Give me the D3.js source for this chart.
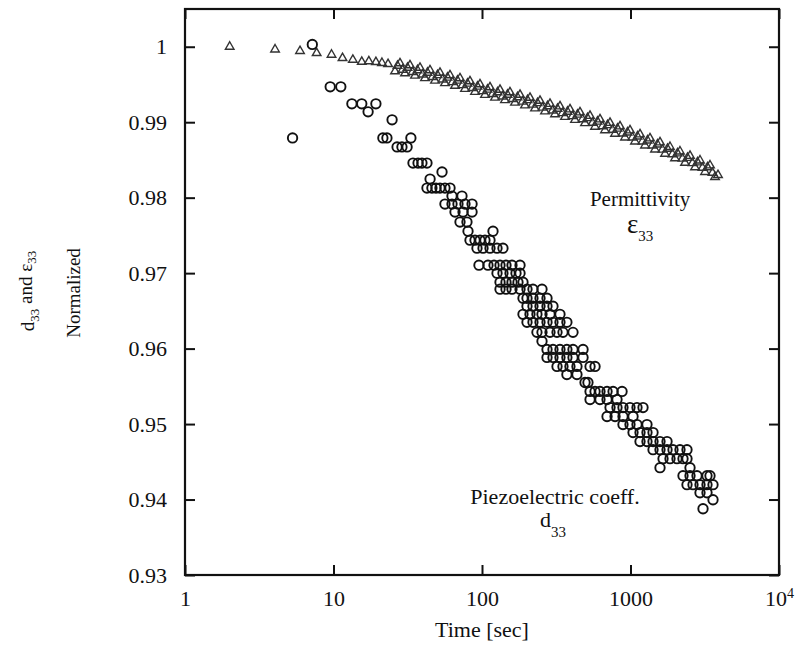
<!DOCTYPE html>
<html>
<head>
<meta charset="utf-8">
<script src="https://cdn.jsdelivr.net/npm/d3@7"></script>
<style>
  body { margin: 0; background: #fff; }
  svg text { font-family: "Liberation Serif", "Times New Roman", serif; fill: #111; }
</style>
</head>
<body>
<svg width="796" height="646"></svg>
<script>
// axis ticks
var xTicks = [1, 10, 100, 1000, 10000];
var xTickLabels = ["1", "10", "100", "1000", "10^4"];
var yTicks = [0.93, 0.94, 0.95, 0.96, 0.97, 0.98, 0.99, 1.0];
var yTickLabels = ["0.93", "0.94", "0.95", "0.96", "0.97", "0.98", "0.99", "1"];

// permittivity (triangles)
var permTime = [2.0, 4.04, 5.95, 7.7, 9.7, 11.5, 13.5, 15.5, 17.3, 19.3, 21.2, 23.3,
  25.95, 28.04, 30.30, 32.74, 35.38, 38.23, 41.32, 44.65, 48.25, 52.13, 56.34, 60.88,
  65.78, 71.09, 76.81, 83.00, 89.70, 96.93, 104.7, 113.2, 122.3, 132.2, 142.8, 154.3,
  166.8, 180.3, 194.8, 210.5, 227.5, 245.8, 265.6, 287.0, 310.2, 335.2, 362.2, 391.4,
  422.9, 457.0, 493.9, 533.7, 576.7, 623.2, 673.5, 727.8, 786.4, 849.8, 918.3, 992.3,
  1072, 1159, 1252, 1353, 1462, 1580, 1708, 1845, 1994, 2154, 2328, 2516,
  2719, 2938, 3175, 3431, 3707, 3883];
var permValue = [1.0000, 0.99964, 0.99943, 0.99916, 0.99894, 0.9985, 0.99827, 0.9980, 0.99807, 0.99797, 0.99785, 0.9977,
  0.99674, 0.99781, 0.99648, 0.99754, 0.99617, 0.99721, 0.99584, 0.99688, 0.99551, 0.99655, 0.99518, 0.99622,
  0.99482, 0.99582, 0.99442, 0.99542, 0.99402, 0.99502, 0.99362, 0.99462, 0.99325, 0.99429, 0.99292, 0.99396,
  0.99259, 0.99363, 0.99223, 0.99323, 0.99183, 0.99283, 0.99143, 0.99243, 0.99106, 0.9921, 0.9907, 0.9917,
  0.9903, 0.9913, 0.98987, 0.99084, 0.9894, 0.99037, 0.98894, 0.98991, 0.98847, 0.98944, 0.98798, 0.98891,
  0.98745, 0.98838, 0.98692, 0.98785, 0.98639, 0.98732, 0.98582, 0.98672, 0.98522, 0.98612, 0.98462, 0.98553,
  0.98402, 0.98493, 0.9834, 0.98427, 0.98273, 0.98300];

// permittivity, the in-between readings of the dense band
var permBandTime = [26.98, 29.15, 31.50, 34.04, 36.78, 39.74, 42.95, 46.42, 50.15, 54.20,
  58.56, 63.28, 68.39, 73.90, 79.86, 86.30, 93.26, 100.8, 108.9, 117.7,
  127.2, 137.4, 148.5, 160.5, 173.4, 187.4, 202.5, 218.8, 236.5, 255.5,
  276.1, 298.4, 322.4, 348.4, 376.5, 406.9, 439.7, 475.1, 513.4, 554.8,
  599.5, 647.8, 700.1, 756.5, 817.5, 883.4, 954.6, 1031, 1115, 1204,
  1302, 1406, 1520, 1642, 1775, 1918, 2072, 2239, 2420, 2615,
  2826, 3053, 3300, 3566];
var permBandValue = [0.99748, 0.99695, 0.99721, 0.99665, 0.99689, 0.99632, 0.99656, 0.99599, 0.99623, 0.99566,
  0.9959, 0.99531, 0.99551, 0.99491, 0.99511, 0.99452, 0.99471, 0.99412, 0.99432, 0.99373,
  0.99397, 0.9934, 0.99364, 0.99307, 0.99331, 0.99272, 0.99292, 0.99232, 0.99252, 0.99193,
  0.99212, 0.99154, 0.99178, 0.9912, 0.99139, 0.9908, 0.991, 0.99039, 0.99054, 0.98992,
  0.99008, 0.98946, 0.98961, 0.98899, 0.98915, 0.98851, 0.98864, 0.98798, 0.98811, 0.98745,
  0.98758, 0.98692, 0.98705, 0.98636, 0.98647, 0.98576, 0.98587, 0.98517, 0.98527, 0.98457,
  0.98467, 0.98396, 0.98402, 0.98329];

// piezoelectric coefficient d33 (circles), grouped by value level
var d33Levels = [1.0003, 0.99469, 0.99243, 0.99137, 0.99031, 0.98792, 0.98672, 0.98459, 0.98340,
  0.98247, 0.98127, 0.98021, 0.97915, 0.97809, 0.97676, 0.97556, 0.97437, 0.97331, 0.97105,
  0.96999, 0.96880, 0.96787, 0.96667, 0.96561, 0.96454, 0.96348, 0.96215, 0.96096, 0.95989,
  0.95883, 0.95764, 0.95657, 0.95551, 0.95432, 0.95325, 0.95219, 0.95100, 0.94993, 0.94887,
  0.94768, 0.94661, 0.94542, 0.94422, 0.94316, 0.94197, 0.94090, 0.93997, 0.93878];
var d33Times = [
  [7.2],
  [9.5, 11.2],
  [13.3, 15.5, 19.3],
  [17.1],
  [24.8],
  [5.3, 21.5, 22.9, 33.2],
  [26.8, 28.9, 31.3],
  [34.3, 37.1, 39.4, 42.6],
  [53.8],
  [44.7],
  [42.6, 46.0, 49.0, 52.1, 56.3, 60.9],
  [62.8, 73.3],
  [56.3, 62.8, 68.9, 76.8, 85.7],
  [65.8, 74.5, 85.7],
  [71.1, 79.2],
  [80.5, 118.6],
  [83.0, 89.7, 97.0, 104.7, 113.2],
  [92.5, 101.6, 113.2, 126.2, 138.4],
  [95.4, 109.7, 120.5, 132.2, 145.1, 159.2, 180.3],
  [126.2, 138.4, 154.4, 169.4, 180.3],
  [132.2, 145.1, 159.2, 174.7, 188.8],
  [132.2, 145.1, 159.2, 180.3, 200.9, 220.4, 253.5],
  [188.8, 200.9, 220.4, 245.8, 274.0],
  [200.9, 220.4, 245.8, 274.0, 300.6],
  [188.8, 210.4, 234.4, 253.5, 287.0, 335],
  [200.9, 220.4, 245.8, 274.0, 300.6, 335, 373],
  [234.4, 253.5, 287.0, 320, 351, 410],
  [253.5],
  [274.0, 300.6, 335, 373, 410, 479],
  [274.0, 300.6, 335, 373, 410, 479],
  [320, 351, 391, 436, 534, 577],
  [373, 436],
  [494, 517],
  [534, 577, 623, 695, 763, 877],
  [534, 623, 695, 811],
  [728, 811, 890, 992, 1106, 1214],
  [695, 787, 890, 1040],
  [890, 992, 1106, 1291],
  [1040, 1159, 1291, 1418],
  [1159, 1291, 1418, 1580, 1762],
  [1418, 1580, 1762, 1933, 2154, 2401],
  [1656, 1845, 2056, 2257, 2401],
  [1580, 2516],
  [2257, 2516, 2804, 3274, 3430],
  [2401, 2636, 2938, 3274, 3594],
  [2938, 3274],
  [3594],
  [3078]
];

var svg = d3.select("svg");
var plot = { left: 185, right: 779, top: 9, bottom: 575 };

var x = d3.scaleLog().domain([1, 10000]).range([plot.left, plot.right]);
var y = d3.scaleLinear().domain([0.93, 1.005]).range([plot.bottom, plot.top]);

// bottom axis with labels
var xAxisG = svg.append("g")
  .attr("transform", "translate(0," + plot.bottom + ")")
  .call(d3.axisBottom(x).tickValues(xTicks).tickSizeInner(-10).tickSizeOuter(0).tickPadding(15)
    .tickFormat(function (d, i) { return xTickLabels[i]; }));
xAxisG.selectAll("text")
  .style("font-size", "22px")
  .each(function (d, i) {
    var lab = xTickLabels[i];
    if (lab.indexOf("^") > -1) {
      var parts = lab.split("^");
      var t = d3.select(this).text("");
      t.append("tspan").text(parts[0]);
      t.append("tspan").attr("dy", "-0.55em").style("font-size", "14px").text(parts[1]);
    }
  });

// left axis with labels
svg.append("g")
  .attr("transform", "translate(" + plot.left + ",0)")
  .call(d3.axisLeft(y).tickValues(yTicks).tickSizeInner(-10).tickSizeOuter(0).tickPadding(18)
    .tickFormat(function (d, i) { return yTickLabels[i]; }))
  .selectAll("text").style("font-size", "22px");

// top and right: ticks only
svg.append("g")
  .attr("transform", "translate(0," + plot.top + ")")
  .call(d3.axisTop(x).tickValues(xTicks).tickSizeInner(-10).tickSizeOuter(0).tickFormat(""));
svg.append("g")
  .attr("transform", "translate(" + plot.right + ",0)")
  .call(d3.axisRight(y).tickValues(yTicks).tickSizeInner(-10).tickSizeOuter(0).tickFormat(""));

svg.selectAll(".domain").remove();
svg.selectAll(".tick line").attr("stroke", "#111").attr("stroke-width", 2);

// frame
svg.append("rect")
  .attr("x", plot.left).attr("y", plot.top)
  .attr("width", plot.right - plot.left).attr("height", plot.bottom - plot.top)
  .attr("fill", "none").attr("stroke", "#111").attr("stroke-width", 2.2);

// permittivity triangles
var tri = d3.symbol().type(d3.symbolTriangle).size(32);
var perm = permTime.map(function (t, i) { return { t: t, v: permValue[i] }; })
  .concat(permBandTime.map(function (t, i) { return { t: t, v: permBandValue[i] }; }));
svg.append("g").selectAll("path")
  .data(perm)
  .enter()
  .append("path")
  .attr("d", tri)
  .attr("transform", function (d) { return "translate(" + x(d.t) + "," + y(d.v) + ")"; })
  .attr("fill", "none")
  .attr("stroke", "#333")
  .attr("stroke-width", 1.4);

// d33 circles
var d33 = [];
d33Levels.forEach(function (v, i) {
  d33Times[i].forEach(function (t) { d33.push({ t: t, v: v }); });
});
svg.append("g").selectAll("circle")
  .data(d33)
  .enter()
  .append("circle")
  .attr("cx", function (d) { return x(d.t); })
  .attr("cy", function (d) { return y(d.v); })
  .attr("r", 4.7)
  .attr("fill", "none")
  .attr("stroke", "#111")
  .attr("stroke-width", 1.9);

// axis titles
svg.append("text")
  .attr("x", x(100)).attr("y", 637)
  .attr("text-anchor", "middle")
  .style("font-size", "22px")
  .text("Time [sec]");

svg.append("text")
  .attr("transform", "translate(80,293) rotate(-90)")
  .attr("text-anchor", "middle")
  .style("font-size", "19px")
  .text("Normalized");

var yl = svg.append("text")
  .attr("transform", "translate(34,291) rotate(-90)")
  .attr("text-anchor", "middle")
  .style("font-size", "19px");
yl.append("tspan").text("d");
yl.append("tspan").attr("dy", "0.35em").style("font-size", "13px").text("33");
yl.append("tspan").attr("dy", "-0.35em").text(" and ε");
yl.append("tspan").attr("dy", "0.35em").style("font-size", "13px").text("33");

// annotations
svg.append("text")
  .attr("x", x(1160)).attr("y", y(0.97888))
  .attr("text-anchor", "middle")
  .style("font-size", "21px")
  .text("Permittivity");
var eps = svg.append("text")
  .attr("x", x(947)).attr("y", y(0.97527));
eps.append("tspan").style("font-size", "27px").text("ε");
eps.append("tspan").attr("dy", 8).style("font-size", "15px").text("33");

svg.append("text")
  .attr("x", x(310)).attr("y", y(0.93943))
  .attr("text-anchor", "middle")
  .style("font-size", "22px")
  .text("Piezoelectric coeff.");
var dd = svg.append("text")
  .attr("x", x(245.8)).attr("y", y(0.93637))
  .style("font-size", "22px");
dd.append("tspan").text("d");
dd.append("tspan").attr("dy", 10).style("font-size", "15px").text("33");
</script>
</body>
</html>
